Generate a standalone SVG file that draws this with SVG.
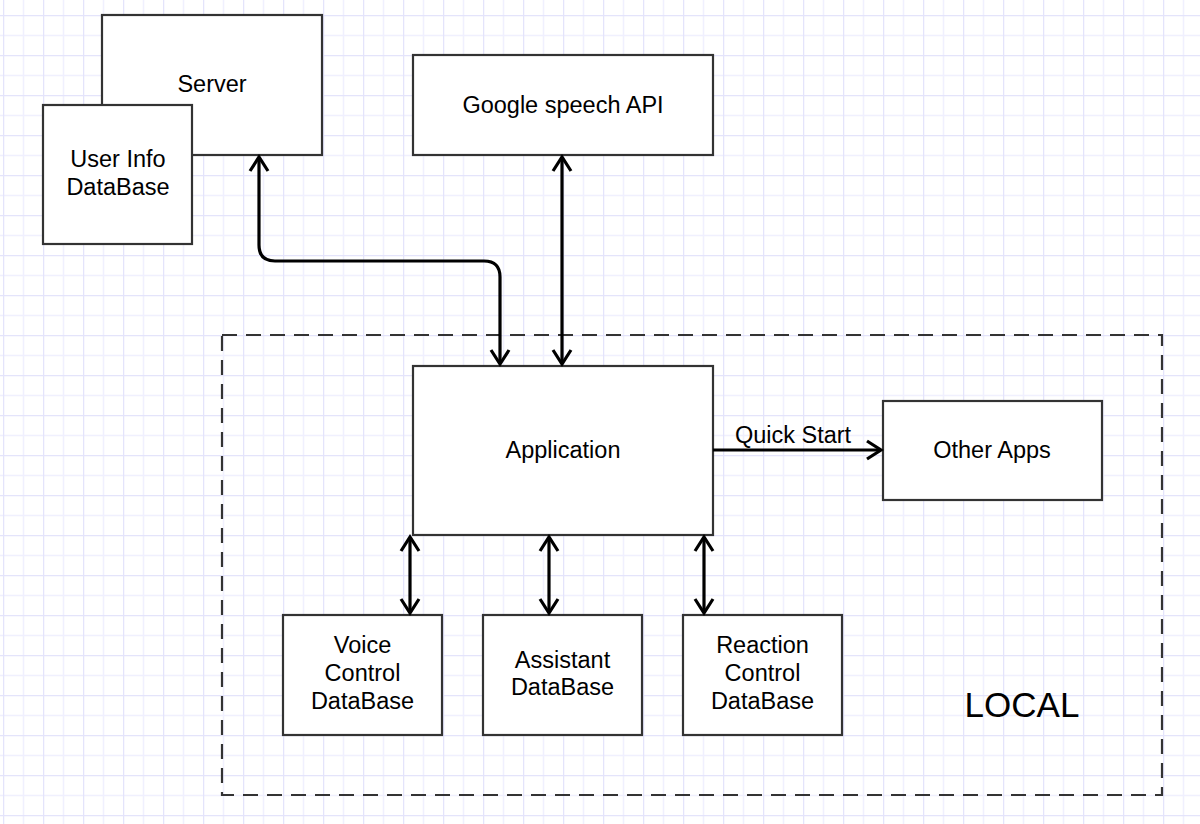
<svg xmlns="http://www.w3.org/2000/svg" width="1200" height="824" viewBox="0 0 1200 824">
<style>
.box{fill:#ffffff;stroke:#333333;stroke-width:2.2}
.lbl{font-family:"Liberation Sans",Arial,sans-serif;font-size:23.5px;fill:#000000;text-anchor:middle}
.conn{fill:none;stroke:#000000;stroke-width:3.2}
.local{fill:none;stroke:#333333;stroke-width:2.2;stroke-dasharray:15 9}
</style>
<defs>
<pattern id="grid" patternUnits="userSpaceOnUse" x="3" y="15" width="40" height="40">
<rect width="40" height="40" fill="#ffffff"/>
<path d="M20.5,0 V40 M0,20.5 H40" stroke="#f0f0fe" stroke-width="1.5" fill="none"/>
<path d="M0.5,0 V40 M0,0.5 H40" stroke="#e4e4fb" stroke-width="1.5" fill="none"/>
</pattern>
<marker id="arr" markerUnits="userSpaceOnUse" markerWidth="30" markerHeight="30" refX="20" refY="15" orient="auto-start-reverse" overflow="visible">
<path d="M6,6 L20,15 L6,24" fill="none" stroke="#000000" stroke-width="3.2" stroke-linejoin="miter"/>
</marker>
</defs>
<rect width="1200" height="824" fill="url(#grid)"/>

<g id="local-container">
<rect class="local" x="222" y="335" width="940" height="460"/>
<text x="1022" y="717" font-family="'Liberation Sans',Arial,sans-serif" font-size="35" text-anchor="middle" fill="#000000">LOCAL</text>
</g>

<g id="server">
<rect class="box" x="102" y="15" width="220" height="140"/>
<text class="lbl" x="212" y="92">Server</text>
</g>
<g id="user-info-db">
<rect class="box" x="43" y="105" width="149" height="139"/>
<text class="lbl" x="118" y="167">User Info</text>
<text class="lbl" x="118" y="195">DataBase</text>
</g>
<g id="google-speech-api">
<rect class="box" x="413" y="55" width="300" height="100"/>
<text class="lbl" x="563" y="113">Google speech API</text>
</g>
<g id="application">
<rect class="box" x="413" y="366" width="300" height="169"/>
<text class="lbl" x="563" y="458">Application</text>
</g>
<g id="other-apps">
<rect class="box" x="883" y="401" width="219" height="99"/>
<text class="lbl" x="992" y="458">Other Apps</text>
</g>
<g id="voice-control-db">
<rect class="box" x="283" y="615" width="159" height="120"/>
<text class="lbl" x="362.5" y="653">Voice</text>
<text class="lbl" x="362.5" y="681">Control</text>
<text class="lbl" x="362.5" y="709">DataBase</text>
</g>
<g id="assistant-db">
<rect class="box" x="483" y="615" width="159" height="120"/>
<text class="lbl" x="562.5" y="668">Assistant</text>
<text class="lbl" x="562.5" y="695">DataBase</text>
</g>
<g id="reaction-control-db">
<rect class="box" x="683" y="615" width="159" height="120"/>
<text class="lbl" x="762.5" y="653">Reaction</text>
<text class="lbl" x="762.5" y="681">Control</text>
<text class="lbl" x="762.5" y="709">DataBase</text>
</g>

<g id="connectors">
<path class="conn" d="M259,157 L259,245 Q259,261 275,261 L484,261 Q500,261 500,277 L500,364" marker-start="url(#arr)" marker-end="url(#arr)"/>
<path class="conn" d="M562,157 L562,364" marker-start="url(#arr)" marker-end="url(#arr)"/>
<path class="conn" d="M713,450 L881,450" marker-end="url(#arr)"/>
<text class="lbl" x="793" y="443">Quick Start</text>
<path class="conn" d="M410,537 L410,613" marker-start="url(#arr)" marker-end="url(#arr)"/>
<path class="conn" d="M549,537 L549,613" marker-start="url(#arr)" marker-end="url(#arr)"/>
<path class="conn" d="M704,537 L704,613" marker-start="url(#arr)" marker-end="url(#arr)"/>
</g>
</svg>
